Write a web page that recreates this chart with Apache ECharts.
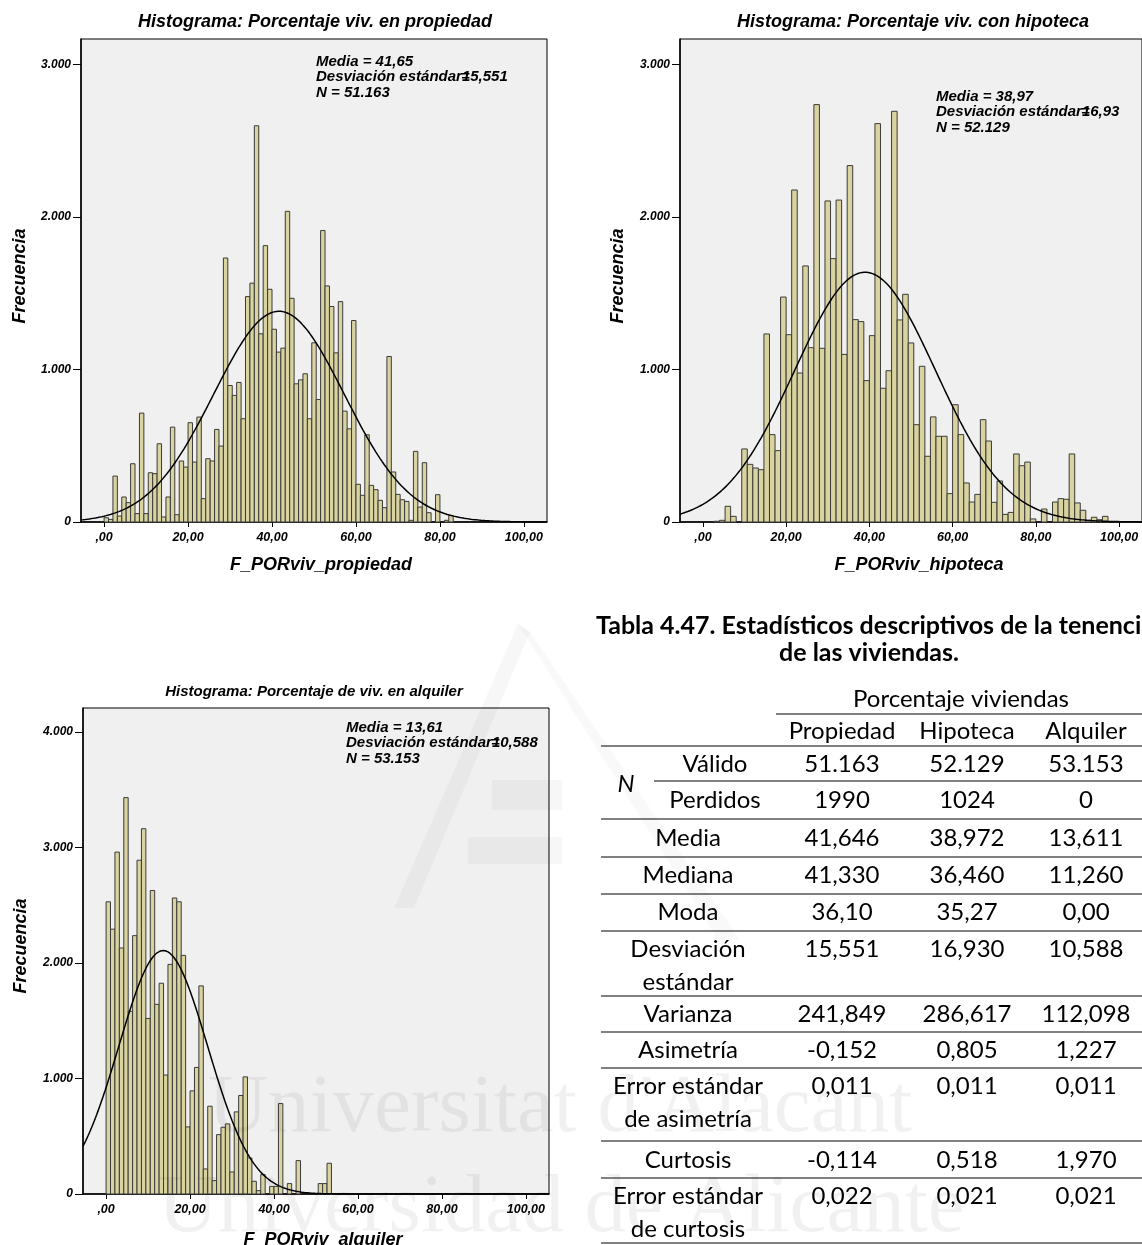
<!DOCTYPE html>
<html>
<head>
<meta charset="utf-8">
<script src="https://cdn.jsdelivr.net/npm/echarts@6/dist/echarts.min.js"></script>
<style>
  html, body { margin: 0; padding: 0; background: #ffffff; }
  #main { width: 1142px; height: 1245px; }
</style>
</head>
<body>
<div id="main"></div>
<script>
// ---- Histogram frequencies (one value per bin, bins start at 0) ----
const propiedadBinWidth = 1.0526;
const propiedadCounts = [
  28, 17, 301, 39, 164, 127, 382, 55, 714, 55,
  323, 317, 513, 33, 164, 622, 48, 400, 360, 651,
  393, 688, 153, 415, 400, 607, 498, 1731, 895, 830,
  915, 677, 1478, 1566, 2598, 1234, 1812, 1526, 1264, 1114,
  1140, 2037, 1467, 906, 932, 972, 677, 1175, 803, 1911,
  1548, 1413, 1109, 1445, 727, 611, 1321, 247, 175, 572,
  240, 212, 142, 94, 1085, 328, 181, 146, 135, 11,
  463, 98, 389, 61, 0, 179, 0, 11, 42
];

const hipotecaBinWidth = 4 / 3;
const hipotecaCounts = [
  0, 0, 5, 11, 103, 37, 0, 479, 378, 354,
  343, 1233, 573, 468, 1475, 1228, 2177, 977, 1679, 1143,
  2737, 1139, 2105, 1727, 2111, 1099, 2337, 1327, 1314, 927,
  1222, 2612, 877, 992, 2693, 1325, 1493, 1174, 638, 1021,
  431, 689, 562, 562, 186, 769, 573, 256, 131, 181,
  671, 531, 129, 269, 50, 63, 446, 369, 393, 20,
  0, 85, 0, 131, 153, 149, 446, 125, 77, 11,
  31, 15, 37
];

const alquilerBinWidth = 1.0526;
const alquilerCounts = [
  2530, 2293, 2960, 2130, 3432, 1582, 2237, 2890, 3163, 1520,
  2628, 1642, 1825, 1030, 1988, 2563, 2530, 2066, 581, 893,
  1096, 1802, 217, 760, 116, 514, 578, 607, 191, 711,
  853, 1014, 312, 110, 29, 168, 0, 66, 66, 783,
  0, 90, 0, 289, 0, 0, 0, 0, 90, 90,
  266, 0, 0, 0, 0, 0, 0, 0, 0, 0,
  0, 0, 0, 0, 0, 0, 0, 0, 0, 0,
  0, 0, 0, 0, 0, 0, 0, 0, 3, 5
];

// ---- Summary statistics shown on each histogram ----
const histTitles = [
  'Histograma: Porcentaje viv. en propiedad',
  'Histograma: Porcentaje viv. con hipoteca',
  'Histograma: Porcentaje de viv. en alquiler'
];
const variableNames = ['F_PORviv_propiedad', 'F_PORviv_hipoteca', 'F_PORviv_alquiler'];
const meanLabels = ['41,65', '38,97', '13,61'];
const stdLabels = ['15,551', '16,93', '10,588'];
const nLabels = ['51.163', '52.129', '53.153'];
const meanValues = [41.65, 38.97, 13.61];
const stdValues = [15.551, 16.93, 10.588];
const nValues = [51163, 52129, 53153];

// ---- Axis ticks ----
const xTickValues = [0, 20, 40, 60, 80, 100];
const yTickValuesTop = [0, 1000, 2000, 3000];
const yTickValuesBottom = [0, 1000, 2000, 3000, 4000];

// ---- Descriptive statistics table ----
const tableCaption = ['Tabla 4.47. Estadísticos descriptivos de la tenencia', 'de las viviendas.'];
const tableGroupHeader = 'Porcentaje viviendas';
const tableColumns = ['Propiedad', 'Hipoteca', 'Alquiler'];
const tableRowLabels = [
  ['Válido'], ['Perdidos'], ['Media'], ['Mediana'], ['Moda'],
  ['Desviación', 'estándar'], ['Varianza'], ['Asimetría'],
  ['Error estándar', 'de asimetría'], ['Curtosis'], ['Error estándar', 'de curtosis']
];
const tablePropiedad = ['51.163', '1990', '41,646', '41,330', '36,10', '15,551', '241,849', '-0,152', '0,011', '-0,114', '0,022'];
const tableHipoteca = ['52.129', '1024', '38,972', '36,460', '35,27', '16,930', '286,617', '0,805', '0,011', '0,518', '0,021'];
const tableAlquiler = ['53.153', '0', '13,611', '11,260', '0,00', '10,588', '112,098', '1,227', '0,011', '1,970', '0,021'];

// ---------------------------------------------------------------
const FONT = '"Liberation Sans", Arial, Helvetica, sans-serif';
const TFONT = 'Lato, "Open Sans", sans-serif';
const BAR_FILL = '#d9d3a0';
const BAR_EDGE = '#3a3a3a';
const PLOT_BG = '#f0f0f0';

// panel layout (pixels)
const panels = [
  { left: 81, top: 39, width: 466, height: 483, yMax: 3167, yTicks: yTickValuesTop,
    title: [315, 22, 18], yName: [20, 276], xName: [321, 565], stats: [316, 62] },
  { left: 680, top: 39, width: 466, height: 483, yMax: 3167, yTicks: yTickValuesTop,
    title: [913, 22, 18], yName: [618, 276], xName: [919, 565], stats: [936, 97] },
  { left: 83, top: 708, width: 466, height: 486, yMax: 4208, yTicks: yTickValuesBottom,
    title: [314, 692, 15], yName: [21, 946], xName: [323, 1240], stats: [346, 728] }
];
const X_MIN = -5.5, X_MAX = 105.5;

const measureCtx = document.createElement('canvas').getContext('2d');
function textWidth(text, font) {
  measureCtx.font = font;
  return measureCtx.measureText(text).width;
}

function thousands(v) {
  return String(v).replace(/\B(?=(\d{3})+(?!\d))/g, '.');
}

function binData(counts, width) {
  return counts.map((c, i) => [i * width, (i + 1) * width, c]);
}

// fitted normal curve scaled to counts per bin
function normalCurve(mean, sd, n, width) {
  const pts = [];
  const k = n * width / (sd * Math.sqrt(2 * Math.PI));
  for (let x = X_MIN; x <= X_MAX + 1e-9; x += 0.25) {
    const z = (x - mean) / sd;
    pts.push([x, k * Math.exp(-0.5 * z * z)]);
  }
  return pts;
}

function renderBin(params, api) {
  const c = api.value(2);
  if (!c) return null;
  const p0 = api.coord([api.value(0), 0]);
  const p1 = api.coord([api.value(1), c]);
  const cs = params.coordSys;
  const shape = echarts.graphic.clipRectByRect(
    { x: p0[0], y: p1[1], width: p1[0] - p0[0], height: p0[1] - p1[1] },
    { x: cs.x, y: cs.y, width: cs.width, height: cs.height }
  );
  if (!shape) return null;
  return { type: 'rect', shape: shape, style: { fill: BAR_FILL, stroke: BAR_EDGE, lineWidth: 1 } };
}

const allCounts = [propiedadCounts, hipotecaCounts, alquilerCounts];
const allWidths = [propiedadBinWidth, hipotecaBinWidth, alquilerBinWidth];

const grids = [], xAxes = [], yAxes = [], series = [], graphics = [];

function addText(x, y, text, font, align, extra) {
  graphics.push(Object.assign({
    type: 'text', x: x, y: y, z: 10,
    style: { text: text, font: font, fill: '#000', align: align || 'left', verticalAlign: 'middle' }
  }, extra || {}));
}

panels.forEach((p, i) => {
  grids.push({
    left: p.left, top: p.top, width: p.width, height: p.height,
    show: true, backgroundColor: PLOT_BG, borderColor: '#000', borderWidth: 1, containLabel: false
  });
  xAxes.push({
    type: 'value', gridIndex: i, min: X_MIN, max: X_MAX,
    axisLine: { show: true, onZero: false, lineStyle: { color: '#000', width: 1.5 } },
    axisTick: { show: true, customValues: xTickValues, length: 5, lineStyle: { color: '#000' } },
    axisLabel: {
      customValues: xTickValues, margin: 9,
      fontFamily: FONT, fontSize: 12.5, fontWeight: 'bold', fontStyle: 'italic', color: '#000',
      formatter: v => (v === 0 ? ',00' : v + ',00')
    },
    splitLine: { show: false }
  });
  yAxes.push({
    type: 'value', gridIndex: i, min: 0, max: p.yMax,
    axisLine: { show: true, onZero: false, lineStyle: { color: '#000', width: 1.5 } },
    axisTick: { show: true, customValues: p.yTicks, length: 8, lineStyle: { color: '#000' } },
    axisLabel: {
      customValues: p.yTicks, margin: 10,
      fontFamily: FONT, fontSize: 12, fontWeight: 'bold', fontStyle: 'italic', color: '#000',
      formatter: v => thousands(v)
    },
    splitLine: { show: false }
  });
  series.push({
    type: 'custom', xAxisIndex: i, yAxisIndex: i, z: 2,
    renderItem: renderBin, encode: { x: [0, 1], y: 2 },
    data: binData(allCounts[i], allWidths[i])
  });
  series.push({
    type: 'line', xAxisIndex: i, yAxisIndex: i, z: 3,
    showSymbol: false, symbol: 'none', clip: true, silent: true,
    lineStyle: { color: '#000', width: 1.5 },
    data: normalCurve(meanValues[i], stdValues[i], nValues[i], allWidths[i])
  });

  // titles and axis names
  const titleFont = 'italic bold ' + p.title[2] + 'px ' + FONT;
  const nameFont = 'italic bold 18px ' + FONT;
  addText(p.title[0], p.title[1], histTitles[i], titleFont, 'center');
  addText(p.yName[0], p.yName[1], 'Frecuencia', nameFont, 'center', { rotation: Math.PI / 2 });
  addText(p.xName[0], p.xName[1], variableNames[i], nameFont, 'center');

  // statistics box: the "=" sign of the second line sits on top of the first digit
  const statFont = 'italic bold 15px ' + FONT;
  const sx = p.stats[0], sy = p.stats[1], lh = 15.2;
  addText(sx, sy, 'Media = ' + meanLabels[i], statFont);
  const head = 'Desviación estándar';
  const hw = textWidth(head, statFont);
  addText(sx, sy + lh, head, statFont);
  addText(sx + hw - 1, sy + lh, '=', statFont);
  addText(sx + hw, sy + lh, stdLabels[i], statFont);
  addText(sx, sy + 2 * lh, 'N = ' + nLabels[i], statFont);
});

// ---- table ----
const colX = [842, 967, 1086];
const labelX = 688;
const subLabelX = 715;
const rowY = [764, 800, 838, 875, 912, 949, 1014, 1050, 1086, 1160, 1196];
const lineGap = 33;
const tableFont = '24px ' + TFONT;

addText(596, 626, tableCaption[0], 'bold 25px ' + TFONT, 'left');
addText(869, 653, tableCaption[1], 'bold 25px ' + TFONT, 'center');
addText(961, 699, tableGroupHeader, tableFont, 'center');
tableColumns.forEach((c, j) => addText(colX[j], 731, c, tableFont, 'center'));
addText(626, 784, 'N', 'italic 24px ' + TFONT, 'center');
tableRowLabels.forEach((lines, r) => {
  const lx = r < 2 ? subLabelX : labelX;
  lines.forEach((t, k) => addText(lx, rowY[r] + k * lineGap, t, tableFont, 'center'));
  [tablePropiedad, tableHipoteca, tableAlquiler].forEach((col, j) => {
    addText(colX[j], rowY[r], col[r], tableFont, 'center');
  });
});
const rules = [
  [776, 714], [601, 746], [654, 781], [601, 819], [601, 857], [601, 894], [601, 931],
  [601, 996], [601, 1032], [601, 1068], [601, 1141], [601, 1178], [601, 1243]
];
rules.forEach(r => {
  graphics.push({
    type: 'line', z: 9, shape: { x1: r[0], y1: r[1], x2: 1142, y2: r[1] },
    style: { stroke: '#808080', lineWidth: 1.8 }
  });
});

// ---- faint university watermark ----
const WM = 'rgba(0,0,0,0.055)';
const WM_FONT = '83px "Liberation Serif", "DejaVu Serif", serif';
graphics.push({ type: 'polygon', z: 50, silent: true,
  shape: { points: [[394, 908], [414, 908], [530, 632], [518, 624]] }, style: { fill: 'rgba(0,0,0,0.03)' } });
graphics.push({ type: 'polygon', z: 50, silent: true,
  shape: { points: [[518, 624], [530, 632], [740, 940], [718, 940]] }, style: { fill: 'rgba(0,0,0,0.025)' } });
graphics.push({ type: 'rect', z: 50, silent: true,
  shape: { x: 492, y: 780, width: 70, height: 30 }, style: { fill: 'rgba(0,0,0,0.03)' } });
graphics.push({ type: 'rect', z: 50, silent: true,
  shape: { x: 468, y: 837, width: 94, height: 27 }, style: { fill: 'rgba(0,0,0,0.03)' } });
graphics.push({ type: 'text', x: 208, y: 1068, z: 50, silent: true,
  style: { text: "Universitat d'Alacant", font: WM_FONT, fill: WM, align: 'left', verticalAlign: 'alphabetic' } });
graphics.push({ type: 'text', x: 158, y: 1168, z: 50, silent: true,
  style: { text: 'Universidad de Alicante', font: WM_FONT, fill: WM, align: 'left', verticalAlign: 'alphabetic' } });

const chart = echarts.init(document.getElementById('main'), null, { renderer: 'canvas' });
chart.setOption({
  animation: false,
  backgroundColor: '#ffffff',
  grid: grids,
  xAxis: xAxes,
  yAxis: yAxes,
  series: series,
  graphic: { elements: graphics }
});
</script>
</body>
</html>
